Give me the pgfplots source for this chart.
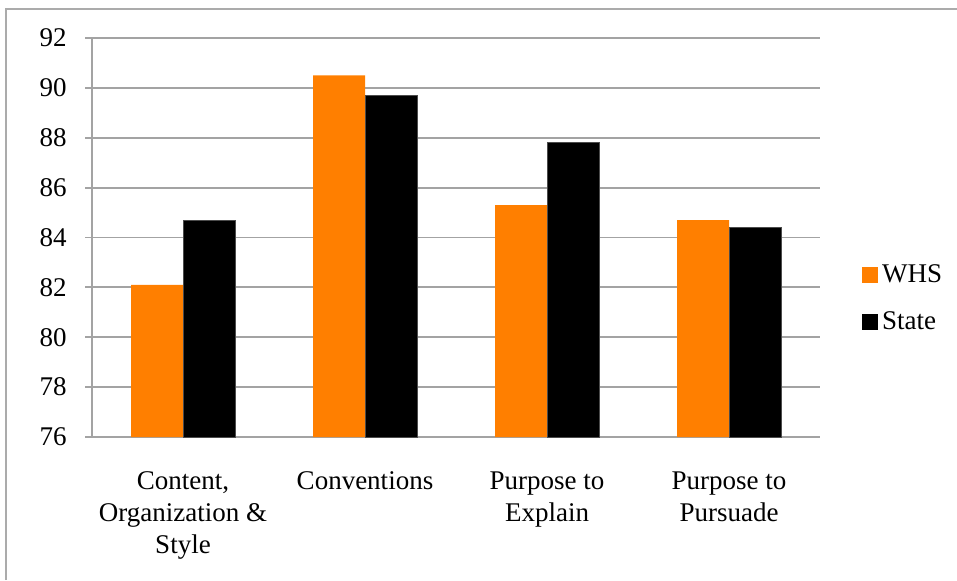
\documentclass[border=0pt]{standalone}
\usepackage{fontspec}
\setmainfont{Liberation Serif}
\usepackage{pgfplots}
\pgfplotsset{compat=1.18}

\definecolor{whsorange}{HTML}{FF7F00}
\definecolor{gridgray}{HTML}{A3A3A3}
\definecolor{framegray}{HTML}{ABABAB}

\pgfplotstableread{
cat whs   state
1   82.1  84.7
2   90.5  89.7
3   85.3  87.8
4   84.7  84.4
}\scores

\begin{document}
\begin{tikzpicture}
% overall canvas and the outer frame (top and left edges)
\useasboundingbox (-46pt,-71.5pt) rectangle (432.5pt,218.5pt);
\draw[framegray, line width=1pt] (-42.75pt,-71.5pt) -- (-42.75pt,214.25pt) -- (432.5pt,214.25pt);

\begin{axis}[
  at={(0,0)}, anchor=south west,
  scale only axis,
  width=364pt, height=199.5pt,
  xmin=0.5, xmax=4.5,
  ymin=76, ymax=92,
  ytick={76,78,...,92},
  yticklabels={\mbox{76},\mbox{78},\mbox{80},\mbox{82},\mbox{84},\mbox{86},\mbox{88},\mbox{90},\mbox{92}},
  ymajorgrids,
  grid style={gridgray, line width=0.9pt},
  axis lines*=left,
  axis line style={gridgray, line width=0.9pt},
  tick style={gridgray, line width=0.9pt},
  tick align=outside,
  major tick length=3.5pt,
  font=\fontsize{13.5}{16}\selectfont,
  yticklabel style={anchor=east, inner sep=0pt, xshift=-9pt, text=black},
  xtick={1,2,3,4},
  xticklabels={{Content,\\Organization \&\\Style},{Conventions},{Purpose to\\Explain},{Purpose to\\Pursuade}},
  xticklabel style={align=center, anchor=north, inner sep=0pt, yshift=-13.5pt, text=black},
  x tick style={draw=none},
  extra x ticks={0.5,1.5,2.5,3.5,4.5},
  extra x tick labels={},
  extra x tick style={grid=none, tick style={gridgray, line width=0.9pt}, major tick length=3.5pt},
  ybar=0pt,
  bar width=0.2857,
  legend style={
    at={(1.0577,0.347)}, anchor=west, draw=none, fill=none,
    font=\fontsize{13.5}{16}\selectfont,
    row sep=9pt, inner sep=0pt,
  },
  legend cell align=left,
]
% WHS bars sit left of each category centre, State bars right of it
\addplot[fill=whsorange, draw=none, bar shift=-0.14285, forget plot] table[x=cat, y=whs] {\scores};
\addplot[fill=black, draw=black!70, line width=0.4pt, bar shift=0.14285, forget plot] table[x=cat, y=state] {\scores};
\addlegendimage{legend image code/.code={\fill[whsorange] (0pt,-3.75pt) rectangle (7.5pt,3.75pt);}}
\addlegendentry{WHS}
\addlegendimage{legend image code/.code={\fill[black] (0pt,-3.75pt) rectangle (7.5pt,3.75pt);}}
\addlegendentry{State}
\end{axis}
\end{tikzpicture}
\end{document}
